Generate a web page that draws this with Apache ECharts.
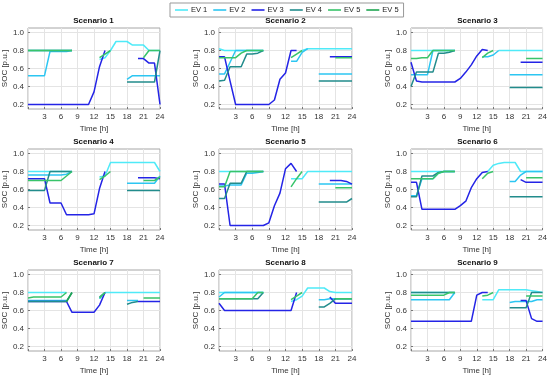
<!DOCTYPE html>
<html><head><meta charset="utf-8">
<script src="https://cdn.jsdelivr.net/npm/echarts@6/dist/echarts.min.js"></script>
<style>html,body{margin:0;padding:0;background:#fff}#c{width:550px;height:379px}</style>
</head><body><div id="c"></div>
<script>
const _ = null;
const hours = [0,1,2,3,4,5,6,7,8,9,10,11,12,13,14,15,16,17,18,19,20,21,22,23,24];
const xTicks = [3,6,9,12,15,18,21,24];
const yTicks = [0.2,0.4,0.6,0.8,1.0];
const evNames = ['EV 1','EV 2','EV 3','EV 4','EV 5','EV 6'];
const evLabels = ['EV 1','EV 2','EV 3','EV 4','EV 5','EV 5'];
const scenarioTitles = ['Scenario 1','Scenario 2','Scenario 3','Scenario 4','Scenario 5','Scenario 6','Scenario 7','Scenario 8','Scenario 9'];

// Scenario 1
const sc1_ev1 = [0.8,0.8,0.8,0.8,0.8,0.8,0.8,0.8,0.8,_,_,_,_,0.7,0.72,0.8,0.9,0.9,0.9,0.86,0.86,0.86,0.8,0.8,0.8];
const sc1_ev2 = [0.52,0.52,0.52,0.52,0.79,0.79,0.79,0.79,0.8,_,_,_,_,_,_,_,_,_,0.48,0.52,0.52,0.52,0.52,0.52,0.52];
const sc1_ev3 = [0.2,0.2,0.2,0.2,0.2,0.2,0.2,0.2,0.2,0.2,0.2,0.2,0.34,0.62,0.8,_,_,_,_,_,0.71,0.71,0.66,0.66,0.2];
const sc1_ev4 = [0.8,0.8,0.8,0.8,0.8,0.8,0.8,0.8,0.8,_,_,_,_,_,_,_,_,_,0.45,0.45,0.45,0.45,0.45,0.45,0.8];
const sc1_ev5 = [0.8,0.8,0.8,0.8,0.8,0.8,0.8,0.8,0.8,_,_,_,_,0.72,0.76,0.8,_,_,_,_,_,0.72,0.8,0.8,0.8];
const sc1_ev6 = [_,_,_,_,_,_,_,_,_,_,_,_,_,_,_,_,_,_,_,_,_,_,_,_,_];
// Scenario 2
const sc2_ev1 = [0.82,0.8,0.8,0.8,0.8,0.8,0.8,0.8,0.8,_,_,_,_,_,_,0.8,0.82,0.82,0.82,0.82,0.82,0.82,0.82,0.82,0.82];
const sc2_ev2 = [0.54,0.54,0.67,0.8,0.8,0.8,0.8,0.8,0.8,_,_,_,_,0.68,0.68,0.78,0.82,_,0.54,0.54,0.54,0.54,0.54,0.54,0.54];
const sc2_ev3 = [0.73,0.73,0.46,0.2,0.2,0.2,0.2,0.2,0.2,0.2,0.25,0.48,0.55,0.8,0.8,_,_,_,_,_,0.73,0.73,0.73,0.73,0.73];
const sc2_ev4 = [0.46,0.47,0.62,0.62,0.62,0.76,0.76,0.77,0.8,_,_,_,_,_,_,_,_,_,0.46,0.46,0.46,0.46,0.46,0.46,0.46];
const sc2_ev5 = [0.72,0.72,0.72,0.72,0.77,0.8,0.8,0.8,0.8,_,_,_,_,0.72,0.76,0.8,_,_,_,_,_,0.72,0.72,0.72,0.72];
const sc2_ev6 = [_,_,_,_,_,_,_,_,_,_,_,_,_,_,_,_,_,_,_,_,_,_,_,_,_];
// Scenario 3
const sc3_ev1 = [0.8,0.8,0.8,0.8,0.8,0.8,0.8,0.8,0.8,_,_,_,_,_,_,_,0.8,0.8,0.8,0.8,0.8,0.8,0.8,0.8,0.8];
const sc3_ev2 = [0.53,0.53,0.53,0.53,0.8,0.8,0.8,0.8,0.8,_,_,_,_,0.73,0.73,0.75,0.8,_,0.53,0.53,0.53,0.53,0.53,0.53,0.53];
const sc3_ev3 = [0.67,0.46,0.45,0.45,0.45,0.45,0.45,0.45,0.45,0.49,0.56,0.64,0.74,0.81,0.8,_,_,_,_,_,0.67,0.67,0.67,0.67,0.67];
const sc3_ev4 = [0.4,0.56,0.56,0.56,0.56,0.77,0.77,0.78,0.8,_,_,_,_,_,_,_,_,_,0.39,0.39,0.39,0.39,0.39,0.39,0.39];
const sc3_ev5 = [0.71,0.71,0.72,0.72,0.8,0.8,0.8,0.8,0.8,_,_,_,_,0.72,0.77,0.8,_,_,_,_,_,0.71,0.71,0.71,0.71];
const sc3_ev6 = [_,_,_,_,_,_,_,_,_,_,_,_,_,_,_,_,_,_,_,_,_,_,_,_,_];
// Scenario 4
const sc4_ev1 = [0.8,0.8,0.8,0.8,0.8,0.8,0.8,0.8,0.8,_,_,_,_,0.74,0.75,0.9,0.9,0.9,0.9,0.9,0.9,0.9,0.9,0.9,0.8];
const sc4_ev2 = [0.76,0.76,0.76,0.76,0.76,0.76,0.76,0.77,0.8,_,_,_,_,_,_,_,_,_,0.67,0.67,0.67,0.67,0.67,0.67,0.75];
const sc4_ev3 = [0.72,0.72,0.72,0.72,0.45,0.45,0.45,0.32,0.32,0.32,0.32,0.32,0.33,0.61,0.8,_,_,_,_,_,0.73,0.73,0.73,0.73,0.72];
const sc4_ev4 = [0.59,0.59,0.59,0.59,0.8,0.8,0.8,0.8,0.8,_,_,_,_,_,_,_,_,_,0.59,0.59,0.59,0.59,0.59,0.59,0.59];
const sc4_ev5 = [0.7,0.7,0.7,0.7,0.7,0.7,0.7,0.75,0.8,_,_,_,_,0.71,0.75,0.8,_,_,_,_,_,0.7,0.7,0.7,0.74];
const sc4_ev6 = [_,_,_,_,_,_,_,_,_,_,_,_,_,_,_,_,_,_,_,_,_,_,_,_,_];
// Scenario 5
const sc5_ev1 = [0.8,0.8,0.8,0.8,0.8,0.8,0.8,0.8,0.8,_,_,_,_,0.72,0.72,0.72,0.8,0.8,0.8,0.8,0.8,0.8,0.8,0.8,0.8];
const sc5_ev2 = [0.64,0.64,0.65,0.65,0.65,0.78,0.78,0.79,0.8,_,_,_,_,_,_,_,_,_,0.66,0.66,0.66,0.66,0.66,0.66,0.66];
const sc5_ev3 = [0.66,0.66,0.2,0.2,0.2,0.2,0.2,0.2,0.2,0.23,0.42,0.56,0.83,0.89,0.8,_,_,_,_,_,0.7,0.7,0.7,0.69,0.66];
const sc5_ev4 = [0.5,0.5,0.67,0.67,0.67,0.8,0.8,0.8,0.8,_,_,_,_,_,_,_,_,_,0.46,0.46,0.46,0.46,0.46,0.46,0.5];
const sc5_ev5 = [0.63,0.63,0.8,0.8,0.8,0.8,0.8,0.8,0.8,_,_,_,_,0.63,0.72,0.8,_,_,_,_,_,0.62,0.62,0.62,0.62];
const sc5_ev6 = [_,_,_,_,_,_,_,_,_,_,_,_,_,_,_,_,_,_,_,_,_,_,_,_,_];
// Scenario 6
const sc6_ev1 = [0.8,0.8,0.8,0.8,0.8,0.8,0.8,0.8,0.8,_,_,_,_,_,0.8,0.87,0.89,0.9,0.9,0.9,0.8,0.8,0.8,0.8,0.8];
const sc6_ev2 = [0.53,0.53,0.72,0.72,0.72,0.78,0.8,0.8,0.8,_,_,_,_,_,_,_,_,_,0.69,0.69,0.76,0.8,0.8,0.8,0.8];
const sc6_ev3 = [0.68,0.68,0.38,0.38,0.38,0.38,0.38,0.38,0.38,0.42,0.47,0.62,0.72,0.79,0.8,_,_,_,_,_,0.71,0.68,0.68,0.68,0.68];
const sc6_ev4 = [0.52,0.52,0.75,0.75,0.75,0.79,0.8,0.8,0.8,_,_,_,_,_,_,_,_,_,0.52,0.52,0.52,0.52,0.52,0.52,0.52];
const sc6_ev5 = [0.72,0.72,0.72,0.72,0.72,0.78,0.8,0.8,0.8,_,_,_,_,0.72,0.78,0.8,_,_,_,_,_,0.73,0.73,0.73,0.73];
const sc6_ev6 = [_,_,_,_,_,_,_,_,_,_,_,_,_,_,_,_,_,_,_,_,_,_,_,_,_];
// Scenario 7
const sc7_ev1 = [0.8,0.8,0.8,0.8,0.8,0.8,0.8,0.8,_,_,_,_,_,_,0.8,0.8,0.8,0.8,0.8,0.8,0.8,0.8,0.8,0.8,0.8];
const sc7_ev2 = [0.71,0.71,0.71,0.71,0.71,0.71,0.71,0.71,_,_,_,_,_,0.73,0.8,_,_,_,0.71,0.71,0.71,_,_,_,_];
const sc7_ev3 = [0.7,0.7,0.7,0.7,0.7,0.7,0.7,0.7,0.58,0.58,0.58,0.58,0.58,0.66,0.8,_,_,_,_,_,0.7,0.7,0.7,0.7,0.7];
const sc7_ev4 = [0.7,0.7,0.7,0.7,0.7,0.7,0.7,0.7,0.8,_,_,_,_,0.75,0.8,_,_,_,0.67,0.69,0.7,_,_,_,_];
const sc7_ev5 = [0.74,0.75,0.75,0.75,0.75,0.75,0.75,0.8,_,_,_,_,_,0.74,0.8,_,_,_,_,_,_,0.74,0.74,0.74,0.74];
const sc7_ev6 = [_,_,_,_,_,_,_,0.7,0.8,_,_,_,_,_,_,_,_,_,_,_,_,_,_,_,_];
// Scenario 8
const sc8_ev1 = [0.8,0.8,0.8,0.8,0.8,0.8,0.8,0.8,0.8,_,_,_,_,0.7,0.72,0.76,0.85,0.85,0.85,0.85,0.81,0.8,0.8,0.8,0.8];
const sc8_ev2 = [0.75,0.8,0.8,0.8,0.8,0.8,0.8,0.8,0.8,_,_,_,_,_,_,_,_,_,0.72,0.72,0.73,0.73,0.73,0.73,0.73];
const sc8_ev3 = [0.68,0.6,0.6,0.6,0.6,0.6,0.6,0.6,0.6,0.6,0.6,0.6,0.6,0.6,0.8,_,_,_,_,_,0.75,0.68,0.68,0.68,0.68];
const sc8_ev4 = [0.73,0.73,0.73,0.73,0.73,0.73,0.73,0.73,0.8,_,_,_,_,_,_,_,_,_,0.64,0.64,0.68,0.73,0.73,0.73,0.73];
const sc8_ev5 = [0.73,0.73,0.73,0.73,0.73,0.73,0.73,0.8,0.8,_,_,_,_,0.72,0.76,0.8,_,_,_,_,_,0.73,0.73,0.73,0.73];
const sc8_ev6 = [_,_,_,_,_,_,_,_,_,_,_,_,_,_,_,_,_,_,_,_,_,_,_,_,_];
// Scenario 9
const sc9_ev1 = [0.8,0.8,0.8,0.8,0.8,0.8,0.8,0.8,0.8,_,_,_,_,0.72,0.72,0.72,0.83,0.83,0.83,0.83,0.83,0.83,0.82,0.81,0.8];
const sc9_ev2 = [0.72,0.72,0.72,0.72,0.72,0.72,0.72,0.72,0.8,_,_,_,_,_,_,_,_,_,0.69,0.7,0.7,0.7,0.7,0.72,0.72];
const sc9_ev3 = [0.48,0.48,0.48,0.48,0.48,0.48,0.48,0.48,0.48,0.48,0.48,0.48,0.77,0.8,0.8,_,_,_,_,_,0.71,0.71,0.51,0.48,0.48];
const sc9_ev4 = [0.8,0.8,0.8,0.8,0.8,0.8,0.8,0.8,0.8,_,_,_,_,_,_,_,_,_,0.63,0.63,0.63,0.63,0.8,0.8,0.8];
const sc9_ev5 = [0.77,0.77,0.77,0.77,0.77,0.77,0.77,0.8,0.8,_,_,_,_,0.76,0.77,0.8,_,_,_,_,_,0.76,0.76,0.76,0.76];
const sc9_ev6 = [_,_,_,_,_,_,_,_,_,_,_,_,_,_,_,_,_,_,_,_,_,_,_,_,_];

const scenarios = [
  [sc1_ev1,sc1_ev2,sc1_ev3,sc1_ev4,sc1_ev5,sc1_ev6],
  [sc2_ev1,sc2_ev2,sc2_ev3,sc2_ev4,sc2_ev5,sc2_ev6],
  [sc3_ev1,sc3_ev2,sc3_ev3,sc3_ev4,sc3_ev5,sc3_ev6],
  [sc4_ev1,sc4_ev2,sc4_ev3,sc4_ev4,sc4_ev5,sc4_ev6],
  [sc5_ev1,sc5_ev2,sc5_ev3,sc5_ev4,sc5_ev5,sc5_ev6],
  [sc6_ev1,sc6_ev2,sc6_ev3,sc6_ev4,sc6_ev5,sc6_ev6],
  [sc7_ev1,sc7_ev2,sc7_ev3,sc7_ev4,sc7_ev5,sc7_ev6],
  [sc8_ev1,sc8_ev2,sc8_ev3,sc8_ev4,sc8_ev5,sc8_ev6],
  [sc9_ev1,sc9_ev2,sc9_ev3,sc9_ev4,sc9_ev5,sc9_ev6]
];

const colors = ['#4FEAF8','#2CC6F2','#2424E6','#228C8C','#38C46A','#1FA552'];
const FONT = '"Liberation Sans", Arial, sans-serif';
const colLeft = [27, 219, 411];
const rowTop = [28, 149, 270];
const GW = 133, GH = 81;

const grids = [], xAxes = [], yAxes = [], series = [], graphics = [];
for (let s = 0; s < 9; s++) {
  const r = Math.floor(s / 3), c = s % 3;
  grids.push({left: colLeft[c], top: rowTop[r], width: GW, height: GH, show: true,
    borderColor: '#a6a6a6', borderWidth: 1, backgroundColor: '#fff'});
  xAxes.push({type: 'value', gridIndex: s, min: 0, max: 24, interval: 3,
    name: 'Time [h]', nameLocation: 'middle', nameGap: 16,
    nameTextStyle: {fontSize: 8, color: '#333', fontFamily: FONT},
    axisLine: {show: false},
    axisTick: {show: true, inside: true, length: 2, lineStyle: {color: '#777'}},
    axisLabel: {fontSize: 8, color: '#333', margin: 4, fontFamily: FONT,
      formatter: v => (v === 0 ? '' : String(v))},
    splitLine: {show: true, lineStyle: {color: '#e4e4e4', width: 1}}});
  yAxes.push({type: 'value', gridIndex: s, min: 0.15, max: 1.05,
    name: 'SOC [p.u.]', nameLocation: 'middle', nameGap: 10,
    nameTextStyle: {fontSize: 8, color: '#333', fontFamily: FONT},
    axisLine: {show: false},
    axisTick: {show: true, inside: true, length: 2, customValues: yTicks, lineStyle: {color: '#777'}},
    axisLabel: {customValues: yTicks, fontSize: 8, color: '#333', margin: 4, fontFamily: FONT,
      formatter: v => Number(v).toFixed(1)},
    splitLine: {show: true, lineStyle: {color: '#e4e4e4', width: 1}}});
  graphics.push({type: 'text', x: colLeft[c] + GW / 2, y: rowTop[r] - 7,
    style: {text: scenarioTitles[s], font: 'bold 8px ' + FONT, fill: '#111',
      align: 'center', verticalAlign: 'middle'}});
  scenarios[s].forEach((arr, k) => {
    series.push({type: 'line', name: evNames[k], xAxisIndex: s, yAxisIndex: s,
      symbol: 'none', showSymbol: false, connectNulls: false,
      lineStyle: {width: 1.5, color: colors[k]}, itemStyle: {color: colors[k]},
      data: hours.map((h, i) => [h, arr[i] === null ? '-' : arr[i]])});
  });
}

const chart = echarts.init(document.getElementById('c'), null, {renderer: 'canvas'});
chart.setOption({
  animation: false,
  textStyle: {fontFamily: FONT},
  legend: {data: evNames, left: 170, top: 3, icon: 'rect', itemWidth: 13, itemHeight: 1.6, itemGap: 6,
    padding: [3, 5], borderColor: '#999', borderWidth: 1, backgroundColor: '#fff',
    textStyle: {fontSize: 7.5, color: '#222', fontFamily: FONT, padding: [0, 0, 0, -2]},
    formatter: name => evLabels[evNames.indexOf(name)]},
  grid: grids, xAxis: xAxes, yAxis: yAxes, series: series, graphic: graphics
});
</script></body></html>
